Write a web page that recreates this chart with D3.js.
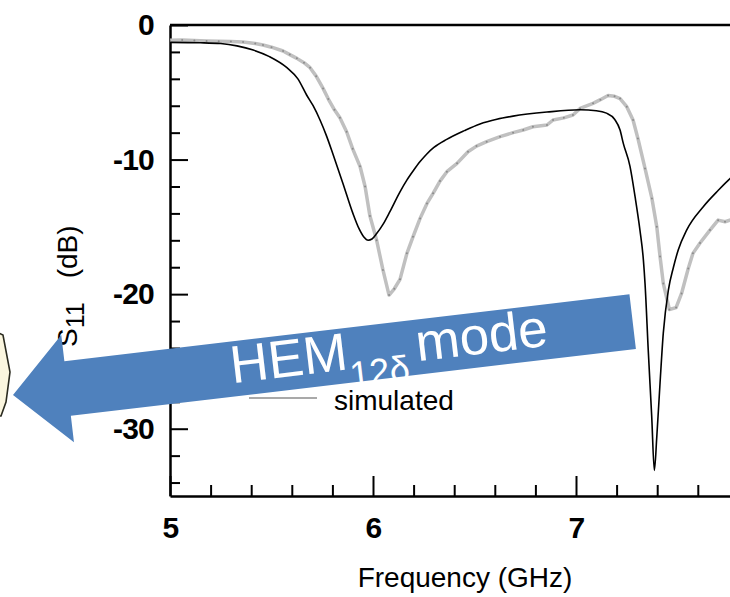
<!DOCTYPE html>
<html>
<head>
<meta charset="utf-8">
<script src="https://cdn.jsdelivr.net/npm/d3@7"></script>
<style>
  html, body { margin: 0; padding: 0; background: #fff; }
  svg { display: block; font-family: "Liberation Sans", Arial, sans-serif; }
</style>
</head>
<body>
<svg id="chart" width="730" height="597"></svg>
<script>
// Return loss |S11| of the resonator antenna: simulated vs measured
const simFreq = [5.00, 5.15, 5.25, 5.33, 5.41, 5.49, 5.576, 5.63, 5.673, 5.705, 5.739, 5.77, 5.803,
  5.852, 5.901, 5.93, 5.955, 5.976, 5.995, 6.018, 6.05, 6.084, 6.133, 6.166, 6.20, 6.232, 6.264, 6.30,
  6.363, 6.45, 6.527, 6.61, 6.69, 6.857, 7.02, 7.10, 7.15, 7.19, 7.217, 7.233, 7.266, 7.291, 7.315,
  7.332, 7.34, 7.356, 7.373, 7.386, 7.398, 7.414, 7.43, 7.455, 7.48, 7.504, 7.545, 7.627, 7.70, 7.76, 7.80];
const simS11 = [-1.29, -1.32, -1.38, -1.55, -1.86, -2.35, -3.17, -4.0, -5.2, -6.0, -7.06, -8.2, -9.6,
  -11.77, -14.0, -15.1, -15.75, -15.99, -15.9, -15.5, -14.8, -13.85, -12.4, -11.55, -10.8, -10.15, -9.6, -9.1,
  -8.5, -7.85, -7.35, -7.0, -6.77, -6.47, -6.3, -6.37, -6.55, -7.0, -7.81, -8.8, -10.5, -12.76, -15.24,
  -17.47, -19.2, -24.2, -29.1, -33.1, -30.6, -26.6, -22.9, -19.7, -18.0, -16.7, -15.24, -13.5, -12.3, -11.4, -10.9];

const measFreq = [5.00, 5.06, 5.12, 5.18, 5.24, 5.30, 5.36, 5.42, 5.458, 5.50, 5.557, 5.59, 5.625,
  5.66, 5.69, 5.72, 5.754, 5.78, 5.81, 5.837, 5.87, 5.90, 5.936, 5.961, 5.985, 6.018, 6.049, 6.079,
  6.105, 6.133, 6.167, 6.197, 6.232, 6.266, 6.296, 6.33, 6.364, 6.414, 6.468, 6.51, 6.56, 6.626, 6.69,
  6.74, 6.788, 6.857, 6.887, 6.94, 6.985, 7.02, 7.084, 7.12, 7.158, 7.19, 7.217, 7.25, 7.281, 7.305,
  7.34, 7.374, 7.398, 7.414, 7.43, 7.46, 7.493, 7.52, 7.553, 7.576, 7.611, 7.66, 7.70, 7.734, 7.78];
const measS11 = [-1.14, -1.12, -1.15, -1.18, -1.2, -1.22, -1.26, -1.38, -1.49, -1.65, -1.93, -2.2, -2.48,
  -2.8, -3.17, -3.8, -4.71, -5.5, -6.3, -6.9, -7.93, -9.2, -10.5, -12.0, -14.2, -16.0, -18.2, -20.07,
  -19.6, -18.9, -16.97, -15.74, -14.37, -13.26, -12.51, -11.6, -10.9, -10.28, -9.42, -9.0, -8.67, -8.3, -8.0,
  -7.8, -7.56, -7.43, -7.06, -6.9, -6.69, -6.2, -5.82, -5.55, -5.24, -5.3, -5.47, -6.07, -7.06, -8.43,
  -10.66, -12.89, -15.0, -17.2, -19.2, -21.14, -21.0, -19.95, -18.1, -16.97, -16.2, -15.24, -14.5, -14.62, -14.4];

const xMajorTicks = [5, 6, 7];
const yMajorTicks = [0, -10, -20, -30];
const xTitle = "Frequency (GHz)";
const legendLabel = "simulated";
const annotationMain = "HEM";
const annotationSub = "12\u03b4";
const annotationTail = "mode";

const svg = d3.select("#chart");
const W = 730, H = 597;
const plotLeft = 170, plotTop = 25, plotBottom = 496;

const x = d3.scaleLinear().domain([5, 8]).range([plotLeft, 779]);
const y = d3.scaleLinear().domain([-35, 0]).range([plotBottom, plotTop]);

// clip region for the traces
svg.append("defs").append("clipPath").attr("id", "plotClip")
  .append("rect").attr("x", plotLeft).attr("y", plotTop - 2)
  .attr("width", W - plotLeft).attr("height", plotBottom - plotTop + 2);

const tickFont = g => g.selectAll("text")
  .attr("font-family", "'Liberation Sans', Arial, sans-serif")
  .attr("font-size", 30).attr("font-weight", "bold").attr("letter-spacing", -0.8)
  .attr("fill", "#000");

// minor ticks (inward)
const xMinor = d3.range(5, 7.81, 0.2).filter(v => Math.abs(v - Math.round(v)) > 1e-6);
const yMinor = d3.range(-34, 0.01, 2).filter(v => v % 10 !== 0);

svg.append("g").attr("transform", `translate(0,${plotBottom})`)
  .call(d3.axisBottom(x).tickValues(xMinor).tickSize(-11).tickFormat(""))
  .call(g => g.select(".domain").remove())
  .call(g => g.selectAll("line").attr("stroke", "#000").attr("stroke-width", 2));

svg.append("g").attr("transform", `translate(${plotLeft},0)`)
  .call(d3.axisLeft(y).tickValues(yMinor).tickSize(-10).tickFormat(""))
  .call(g => g.select(".domain").remove())
  .call(g => g.selectAll("line").attr("stroke", "#000").attr("stroke-width", 2));

// major ticks with labels
svg.append("g").attr("transform", `translate(0,${plotBottom})`)
  .call(d3.axisBottom(x).tickValues(xMajorTicks).tickSizeInner(-20).tickSizeOuter(0)
    .tickPadding(21).tickFormat(d => String(d)))
  .call(g => g.select(".domain").attr("stroke", "#000").attr("stroke-width", 2.5))
  .call(g => g.selectAll("line").attr("stroke", "#000").attr("stroke-width", 2))
  .call(tickFont);

svg.append("g").attr("transform", `translate(${plotLeft},0)`)
  .call(d3.axisLeft(y).tickValues(yMajorTicks).tickSizeInner(-18).tickSizeOuter(0)
    .tickPadding(16).tickFormat(d => String(d)))
  .call(g => g.select(".domain").attr("stroke", "#000").attr("stroke-width", 2.5))
  .call(g => g.selectAll("line").attr("stroke", "#000").attr("stroke-width", 2))
  .call(tickFont);

// top frame line
svg.append("line").attr("x1", plotLeft).attr("x2", W).attr("y1", y(0)).attr("y2", y(0))
  .attr("stroke", "#000").attr("stroke-width", 2.5);

// axis titles
svg.append("text").attr("x", 465).attr("y", 587).attr("text-anchor", "middle")
  .attr("font-size", 28).attr("fill", "#000").text(xTitle);

const yt = svg.append("text").attr("transform", "translate(77,347) rotate(-90)")
  .attr("font-size", 28).attr("fill", "#000");
yt.append("tspan").text("S");
yt.append("tspan").attr("font-size", 25).attr("dy", 7).text("11");
yt.append("tspan").attr("dy", -7).attr("dx", 24).text("(dB)");

// traces
const plot = svg.append("g").attr("clip-path", "url(#plotClip)");
const measData = measFreq.map((f, i) => [f, measS11[i]]);
const simData = simFreq.map((f, i) => [f, simS11[i]]);

plot.append("path").datum(measData)
  .attr("fill", "none").attr("stroke", "#c0c0c0").attr("stroke-width", 3.5)
  .attr("stroke-linejoin", "round")
  .attr("d", d3.line().x(d => x(d[0])).y(d => y(d[1])));
plot.selectAll("circle.meas").data(measData).join("circle").attr("class", "meas")
  .attr("cx", d => x(d[0])).attr("cy", d => y(d[1])).attr("r", 1)
  .attr("fill", "#8c8c8c");

plot.append("path").datum(simData)
  .attr("fill", "none").attr("stroke", "#000").attr("stroke-width", 1.6)
  .attr("d", d3.line().curve(d3.curveMonotoneX).x(d => x(d[0])).y(d => y(d[1])));

// legend entry
svg.append("line").attr("x1", 249).attr("x2", 317).attr("y1", 398).attr("y2", 398)
  .attr("stroke", "#555").attr("stroke-width", 1.2);
svg.append("text").attr("x", 334).attr("y", 410).attr("font-size", 28).attr("fill", "#000")
  .text(legendLabel);

// partial shape at the left edge
svg.append("path")
  .attr("d", "M-4,332 L3,335 L10,372 L6,402 L1,416 L-4,416 Z")
  .attr("fill", "#fbf6df").attr("stroke", "#2b2b20").attr("stroke-width", 1.6);

// callout arrow with mode label
const arrowLen = 624, headLen = 55, headHalf = 54, shaftHalf = 27.5;
const arrow = svg.append("g").attr("transform", "translate(13,395) rotate(-6.75)");
arrow.append("path")
  .attr("d", `M0,0 L${headLen},${-headHalf} L${headLen},${-shaftHalf} L${arrowLen},${-shaftHalf}
              L${arrowLen},${shaftHalf} L${headLen},${shaftHalf} L${headLen},${headHalf} Z`)
  .attr("fill", "#4f81bd");
const lbl = arrow.append("text").attr("x", 219).attr("y", 14)
  .attr("font-size", 53).attr("fill", "#fff");
lbl.append("tspan").text(annotationMain);
lbl.append("tspan").attr("font-size", 36).attr("dy", 18).text(annotationSub);
lbl.append("tspan").attr("dy", -18).attr("dx", 9).text(annotationTail);
</script>
</body>
</html>
